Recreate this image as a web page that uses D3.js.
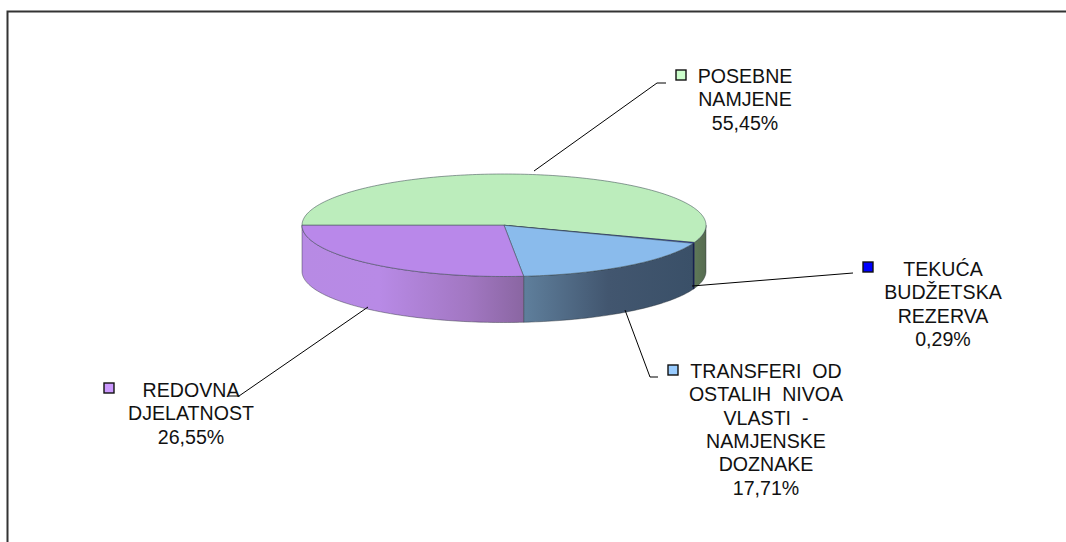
<!DOCTYPE html>
<html><head><meta charset="utf-8">
<script src="https://cdnjs.cloudflare.com/ajax/libs/d3/7.8.5/d3.min.js"></script>
<style>html,body{margin:0;padding:0;background:#fff;overflow:hidden}svg{display:block}
text{font-family:"Liberation Sans",Arial,sans-serif;font-size:19.6px;fill:#111;text-anchor:middle}</style>
</head><body><svg id="c" width="1066" height="542"></svg>
<script>
const categories = ["POSEBNE NAMJENE","TEKUĆA BUDŽETSKA REZERVA","TRANSFERI OD OSTALIH NIVOA VLASTI - NAMJENSKE DOZNAKE","REDOVNA DJELATNOST"];
const values = [55.45,0.29,17.71,26.55];
const valueLabels = ["55,45%","0,29%","17,71%","26,55%"];
const labelLines = [["POSEBNE","NAMJENE"],["TEKUĆA","BUDŽETSKA","REZERVA"],["TRANSFERI  OD","OSTALIH  NIVOA","VLASTI  -","NAMJENSKE","DOZNAKE"],["REDOVNA","DJELATNOST"]];
const topColors = ["#bcedbc","#0000c8","#8abbec","#b988ea"];
const keyColors = ["#ccffcc","#0000ff","#99ccff","#cc99ff"];
const sideStops = [[["0","#5f7858"],["1","#566b50"]],[["0","#0a1a66"],["1","#0a1a66"]],[["0","#5f7f9c"],["0.5","#42566f"],["1","#3a5068"]],[["0","#b78ae4"],["0.35","#b88ae6"],["0.75","#a277c2"],["1","#8a66a2"]]];
const labelPos = [[745,83],[943,276],[766,378],[191,397]];
const keyPos = [[681,75],[868,267],[673,370],[109,388]];
const leaders = [[[534,171],[657,83],[666,83]],[[692,286],[853,273]],[[625,310],[650,377],[658,377]],[[368,307],[239,396],[229,396]]];
const lineGap = 23.3, depth = 46;

const svg = d3.select("#c");
// frame (open on the right and bottom)
svg.append("path").attr("d",d3.line()([[7.5,542],[7.5,11.5],[1066,11.5]])).attr("fill","none").attr("stroke","#333").attr("stroke-width",2);

const x = d3.scaleLinear().domain([-1,1]).range([302,706]);
const y = d3.scaleLinear().domain([-1,1]).range([174,276.5]);
const TAU = Math.PI*2;
const pie = d3.pie().value(d=>d).sort(null).startAngle(TAU*0.75).endAngle(TAU*1.75);
const arcs = pie(values);
const pt = (a,dz=0)=>[x(Math.sin(a)),y(-Math.cos(a))+dz];
const sample = (a0,a1,dz=0)=>{const n=Math.max(2,Math.ceil(Math.abs(a1-a0)/0.02));return d3.range(n+1).map(i=>pt(a0+(a1-a0)*i/n,dz));};
const line = d3.line();
const defs = svg.append("defs");

// side walls: only the front half of the rim is visible
arcs.forEach((d,i)=>{
  const f0=TAU+Math.PI/2,f1=TAU+Math.PI*1.5;
  const s=Math.max(d.startAngle,f0),e=Math.min(d.endAngle,f1);
  if(e<=s)return;
  const id="side"+i,p0=pt(s),p1=pt(e);
  const g=defs.append("linearGradient").attr("id",id).attr("gradientUnits","userSpaceOnUse")
    .attr("x1",Math.min(p0[0],p1[0])).attr("x2",Math.max(p0[0],p1[0])).attr("y1",0).attr("y2",0);
  sideStops[i].forEach(t=>g.append("stop").attr("offset",t[0]).attr("stop-color",t[1]));
  const pts=sample(s,e).concat(sample(e,s,depth));
  svg.append("path").attr("d",line(pts)+"Z").attr("fill",`url(#${id})`).attr("stroke","#2a3038").attr("stroke-opacity",.55).attr("stroke-width",.8);
});
// top faces
const centre=[x(0),y(0)];
arcs.forEach((d,i)=>{
  const pts=[centre].concat(sample(d.startAngle,d.endAngle));
  svg.append("path").attr("d",line(pts)+"Z").attr("fill",topColors[i]).attr("stroke","#3a4a50").attr("stroke-opacity",.6).attr("stroke-width",.9);
});
// leaders
leaders.forEach(l=>svg.append("path").attr("d",line(l)).attr("fill","none").attr("stroke","#000").attr("stroke-width",1));
// legend keys
keyPos.forEach((p,i)=>svg.append("rect").attr("x",p[0]-5).attr("y",p[1]-5).attr("width",10).attr("height",10).attr("fill",keyColors[i]).attr("stroke","#111").attr("stroke-width",1.4));
// labels
labelLines.forEach((ls,i)=>{
  const t=svg.append("text").attr("xml:space","preserve").style("white-space","pre");
  ls.concat(valueLabels[i]).forEach((s,j)=>t.append("tspan").attr("x",labelPos[i][0]).attr("y",labelPos[i][1]+j*lineGap).text(s));
});
</script></body></html>
